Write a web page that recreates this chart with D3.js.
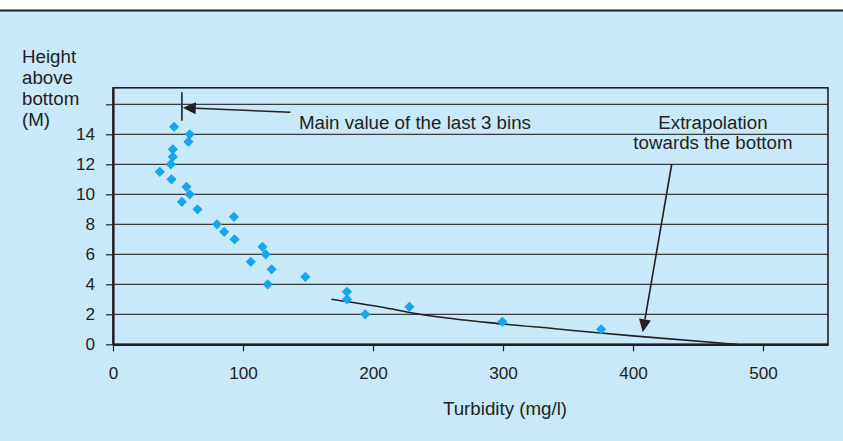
<!DOCTYPE html>
<html>
<head>
<meta charset="utf-8">
<script src="https://cdn.jsdelivr.net/npm/d3@7"></script>
<style>
  body { margin: 0; background: #fff; }
  text { font-family: "Liberation Sans", Arial, sans-serif; fill: #231f20; }
</style>
</head>
<body>
<svg id="chart" width="843" height="441"></svg>
<script>
// measured points: height above bottom (m) and turbidity (mg/l)
var heights = [1, 1.5, 2, 2.5, 3, 3.5, 4, 4.5, 5, 5.5, 6, 6.5, 7, 7.5, 8, 8.5, 9, 9.5, 10, 10.5, 11, 11.5, 12, 12.5, 13, 13.5, 14, 14.5];
var turbidity = [375.5, 299.5, 194, 228, 180, 180, 119, 148, 122, 106, 117.5, 115, 93.5, 85.5, 80, 93, 65, 53, 59, 56.5, 45, 36, 44.5, 46, 46, 58, 59, 47];

// extrapolation curve towards the bottom
var fitTurbidity = [168, 205, 236, 300, 340, 375, 400, 480];
var fitHeight = [3.0, 2.5, 2.0, 1.35, 1.04, 0.75, 0.56, 0];

var xTicks = [0, 100, 200, 300, 400, 500];
var yTicks = [0, 2, 4, 6, 8, 10, 12, 14, 16];
var yTitle = ["Height", "above", "bottom", "(M)"];
var xTitle = "Turbidity (mg/l)";
var note1 = "Main value of the last 3 bins";
var note2 = ["Extrapolation", "towards the bottom"];

var stretch = 1.04;     // labels in the source are a bit wide
var svg = d3.select("#chart");

var x = d3.scaleLinear().domain([0, 550]).range([113, 828]);
var y = d3.scaleLinear().domain([0, 17.1]).range([344.3, 87.8]);

// background
svg.append("rect").attr("x", 0).attr("y", 10).attr("width", 843).attr("height", 431).attr("fill", "#c7e9f9");
svg.append("line").attr("x1", 0).attr("x2", 843).attr("y1", 10.5).attr("y2", 10.5)
  .attr("stroke", "#231f20").attr("stroke-width", 2);

// grid
svg.append("g").selectAll("line")
  .data(yTicks.filter(function(d) { return d > 0; }))
  .enter().append("line")
  .attr("x1", x(0)).attr("x2", x(550))
  .attr("y1", function(d) { return y(d); }).attr("y2", function(d) { return y(d); })
  .attr("stroke", "#3a3a3a").attr("stroke-width", 1.2);

// frame
svg.append("rect").attr("x", x(0)).attr("y", y(17.1))
  .attr("width", x(550) - x(0)).attr("height", y(0) - y(17.1))
  .attr("fill", "none").attr("stroke", "#231f20").attr("stroke-width", 1.6);

// axes
var yAxis = svg.append("g")
  .attr("transform", "translate(" + x(0) + ",0)")
  .call(d3.axisLeft(y).tickValues(yTicks).tickSizeInner(7).tickSizeOuter(0)
    .tickFormat(function(d) { return d === 16 ? "" : d; }));
yAxis.select(".domain").attr("stroke", "#231f20").attr("stroke-width", 2.2);
yAxis.selectAll(".tick line").attr("stroke", "#231f20").attr("stroke-width", 1.2);
yAxis.selectAll("text")
  .attr("x", -18 / stretch)
  .attr("transform", "scale(" + stretch + ",1)")
  .style("font-size", "16.5px").attr("fill", "#231f20");

var xAxis = svg.append("g")
  .attr("transform", "translate(0," + y(0) + ")")
  .call(d3.axisBottom(x).tickValues(xTicks).tickSizeInner(7).tickSizeOuter(0).tickPadding(16));
xAxis.select(".domain").attr("stroke", "#231f20").attr("stroke-width", 2.2);
xAxis.selectAll(".tick line").attr("stroke", "#231f20").attr("stroke-width", 1.2);
xAxis.selectAll("text")
  .attr("transform", "scale(" + stretch + ",1)")
  .style("font-size", "16.5px").attr("fill", "#231f20");

// titles
svg.append("g").selectAll("text")
  .data(yTitle).enter().append("text")
  .attr("transform", function(d, i) { return "translate(22," + (63 + i * 21) + ") scale(" + stretch + ",1)"; })
  .style("font-size", "18px")
  .text(function(d) { return d; });

svg.append("text")
  .attr("transform", "translate(505,415) scale(" + stretch + ",1)")
  .attr("text-anchor", "middle")
  .style("font-size", "18px")
  .text(xTitle);

// extrapolation curve
var line = d3.line()
  .x(function(d) { return x(d[0]); })
  .y(function(d) { return y(d[1]); })
  .curve(d3.curveMonotoneX);
svg.append("path")
  .datum(d3.zip(fitTurbidity, fitHeight))
  .attr("d", line)
  .attr("fill", "none").attr("stroke", "#231f20").attr("stroke-width", 1.6);

// points
svg.append("g").selectAll("path")
  .data(d3.zip(turbidity, heights))
  .enter().append("path")
  .attr("transform", function(d) { return "translate(" + x(d[0]) + "," + y(d[1]) + ")"; })
  .attr("d", d3.symbol().type(d3.symbolDiamond2).size(66))
  .attr("fill", "#17a6ea");

// annotations
function arrow(x1, y1, x2, y2) {
  var ax = x(x1), ay = y(y1), bx = x(x2), by = y(y2);
  var ang = Math.atan2(by - ay, bx - ax);
  var len = 13, hw = 6;
  var cx = bx - len * Math.cos(ang), cy = by - len * Math.sin(ang);
  svg.append("line").attr("x1", ax).attr("y1", ay).attr("x2", cx).attr("y2", cy)
    .attr("stroke", "#231f20").attr("stroke-width", 1.6);
  var pts = [
    [bx, by],
    [cx - hw * Math.sin(ang), cy + hw * Math.cos(ang)],
    [cx + hw * Math.sin(ang), cy - hw * Math.cos(ang)]
  ];
  svg.append("path").attr("d", "M" + pts.join("L") + "Z").attr("fill", "#231f20");
}

svg.append("line")
  .attr("x1", x(53)).attr("x2", x(53)).attr("y1", y(16.8)).attr("y2", y(14.9))
  .attr("stroke", "#231f20").attr("stroke-width", 1.6);
arrow(136.4, 15.47, 53.7, 15.77);
arrow(429.8, 12.02, 407.5, 0.8);

svg.append("text")
  .attr("transform", "translate(" + x(143) + ",129) scale(" + stretch + ",1)")
  .style("font-size", "18px")
  .text(note1);

svg.append("g").selectAll("text")
  .data(note2).enter().append("text")
  .attr("transform", function(d, i) { return "translate(" + x(461.5) + "," + (129 + i * 20) + ") scale(" + stretch + ",1)"; })
  .attr("text-anchor", "middle")
  .style("font-size", "18px")
  .text(function(d) { return d; });
</script>
</body>
</html>
